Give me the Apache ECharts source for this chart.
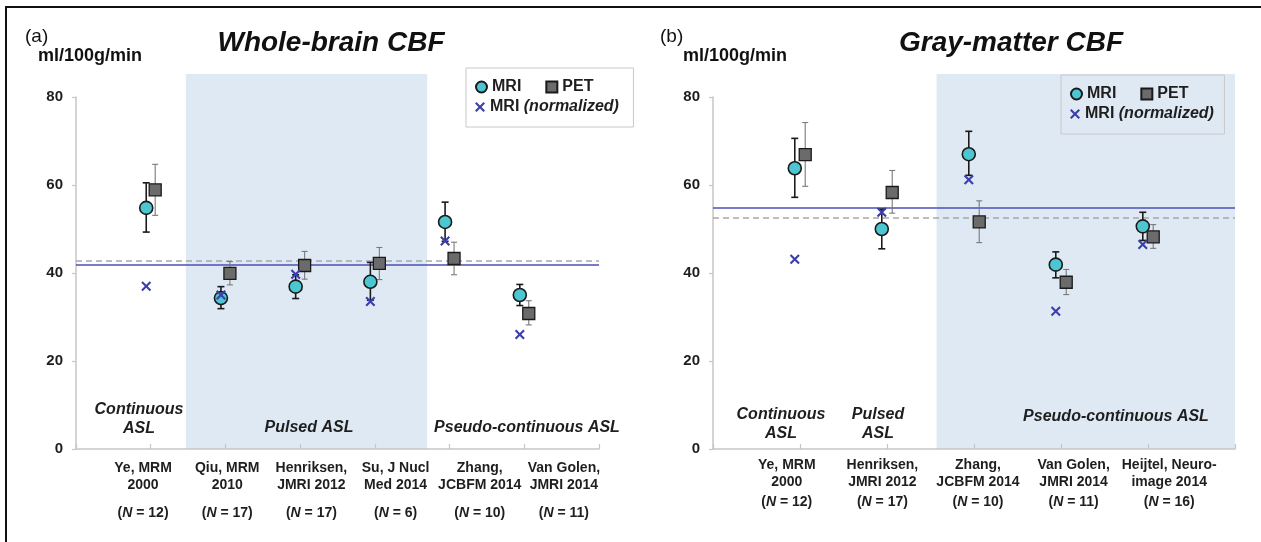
<!DOCTYPE html>
<html>
<head>
<meta charset="utf-8">
<script src="https://cdn.jsdelivr.net/npm/echarts@6/dist/echarts.min.js"></script>
<style>
  html, body { margin: 0; padding: 0; background: #fff; }
  #wrap { position: relative; width: 1261px; height: 542px; overflow: hidden; }
  #chart { position: absolute; left: 0; top: 0; width: 1261px; height: 542px; }
  #frame { position: absolute; left: 5px; top: 6px; width: 1300px; height: 600px;
           border-left: 2px solid #111; border-top: 2px solid #111; pointer-events: none; }
</style>
</head>
<body>
<div id="wrap"><div id="chart"></div><div id="frame"></div></div>
<script>
// ---------- Panel (a): Whole-brain CBF ----------
const catsA = ['Ye, MRM\n2000', 'Qiu, MRM\n2010', 'Henriksen,\nJMRI 2012', 'Su, J Nucl\nMed 2014', 'Zhang,\nJCBFM 2014', 'Van Golen,\nJMRI 2014'];
const nA = [12, 17, 17, 6, 10, 11];
const mriA   = [54.8, 34.3, 36.9, 38.0, 51.6, 35.0];
const mriLoA = [49.3, 31.9, 34.2, 33.8, 47.2, 32.6];
const mriHiA = [60.5, 36.9, 39.6, 42.4, 56.1, 37.4];
const petA   = [58.9, 39.9, 41.7, 42.2, 43.3, 30.8];
const petLoA = [53.1, 37.3, 38.6, 38.5, 39.6, 28.2];
const petHiA = [64.7, 42.6, 44.9, 45.8, 47.0, 33.7];
const normA  = [37.0, 35.0, 39.7, 33.5, 47.3, 26.0];
const refA = [41.9, 42.8];          // [solid blue, dashed gray]
const bandA = [1.47, 4.7];          // Pulsed ASL shading
const groupsA = ['Continuous\nASL', 'Pulsed ASL', 'Pseudo-continuous ASL'];

// ---------- Panel (b): Gray-matter CBF ----------
const catsB = ['Ye, MRM\n2000', 'Henriksen,\nJMRI 2012', 'Zhang,\nJCBFM 2014', 'Van Golen,\nJMRI 2014', 'Heijtel, Neuro-\nimage 2014'];
const nB = [12, 17, 10, 11, 16];
const mriB   = [63.8, 50.0, 67.0, 41.9, 50.6];
const mriLoB = [57.2, 45.5, 62.2, 38.9, 47.4];
const mriHiB = [70.6, 54.5, 72.2, 44.8, 53.8];
const petB   = [66.9, 58.3, 51.6, 37.9, 48.2];
const petLoB = [59.7, 53.6, 46.9, 35.1, 45.6];
const petHiB = [74.2, 63.3, 56.4, 40.8, 51.0];
const normB  = [43.1, 53.8, 61.2, 31.3, 46.5];
const refB = [54.9, 52.6];
const bandB = [2.57, 6.0];
const groupsB = ['Continuous\nASL', 'Pulsed\nASL', 'Pseudo-continuous ASL'];

const yTicks = [0, 80, 20];   // min, max, interval

// ---------- styling ----------
const FONT = 'Liberation Sans, Arial, Helvetica, sans-serif';
const XPATH = 'path://M1.5,0L5,3.5L8.5,0L10,1.5L6.5,5L10,8.5L8.5,10L5,6.5L1.5,10L0,8.5L3.5,5L0,1.5Z';
const OFF = 0.06;
const AXC = '#c6c6c6';
const TXT = '#1e1e1e';

const chart = echarts.init(document.getElementById('chart'), null, { renderer: 'canvas' });

function errSeries(name, xi, yi, xs, lo, hi, color, lw, cap, z) {
  return {
    type: 'custom', name: name, xAxisIndex: xi, yAxisIndex: yi, z: z, silent: true,
    data: xs.map((x, i) => [x, lo[i], hi[i]]),
    encode: { x: 0, y: [1, 2] },
    renderItem: function (params, api) {
      const x = api.value(0);
      const a = api.coord([x, api.value(1)]);
      const b = api.coord([x, api.value(2)]);
      const st = { stroke: color, lineWidth: lw };
      return { type: 'group', children: [
        { type: 'line', shape: { x1: a[0], y1: a[1], x2: b[0], y2: b[1] }, style: st },
        { type: 'line', shape: { x1: a[0] - cap, y1: a[1], x2: a[0] + cap, y2: a[1] }, style: st },
        { type: 'line', shape: { x1: b[0] - cap, y1: b[1], x2: b[0] + cap, y2: b[1] }, style: st }
      ]};
    }
  };
}

function bandSeries(xi, yi, band) {
  return {
    type: 'custom', xAxisIndex: xi, yAxisIndex: yi, z: 0, silent: true,
    data: [[band[0], band[1]]],
    encode: { x: [0, 1] },
    renderItem: function (params, api) {
      const p1 = api.coord([api.value(0), 1]);
      const p2 = api.coord([api.value(1), 0]);
      return { type: 'rect', shape: { x: p1[0], y: p1[1], width: p2[0] - p1[0], height: p2[1] - p1[1] },
               style: { fill: '#dfe9f4' } };
    }
  };
}

function panelSeries(xi, yi, mri, mriLo, mriHi, pet, petLo, petHi, norm, ref) {
  const xm = mri.map((v, i) => i + 1 - OFF);
  const xp = pet.map((v, i) => i + 1 + OFF);
  return [
    Object.assign(errSeries('errMRI', xi, yi, xm, mriLo, mriHi, '#1a1a1a', 1.6, 3.5, 3), {
      markLine: {
        silent: true, symbol: 'none', label: { show: false }, z: 2,
        data: [
          { yAxis: ref[0], lineStyle: { color: '#4a4fb8', width: 1.6, type: 'solid' } },
          { yAxis: ref[1], lineStyle: { color: '#a8a8a8', width: 1.6, type: [6, 4] } }
        ]
      }
    }),
    errSeries('errPET', xi, yi, xp, petLo, petHi, '#7a7a7a', 1.1, 3, 3),
    {
      type: 'scatter', name: 'MRI', xAxisIndex: xi, yAxisIndex: yi, z: 5,
      symbol: 'circle', symbolSize: 13,
      itemStyle: { color: '#4cc7d1', borderColor: '#1a1a1a', borderWidth: 1.6, opacity: 1 },
      data: mri.map((v, i) => [xm[i], v])
    },
    {
      type: 'scatter', name: 'PET', xAxisIndex: xi, yAxisIndex: yi, z: 5,
      symbol: 'rect', symbolSize: 12,
      itemStyle: { color: '#6b6b6b', borderColor: '#1a1a1a', borderWidth: 1.3, opacity: 1 },
      data: pet.map((v, i) => [xp[i], v])
    },
    {
      type: 'scatter', name: 'MRI (normalized)', xAxisIndex: xi, yAxisIndex: yi, z: 6,
      symbol: XPATH, symbolSize: 10,
      itemStyle: { color: '#3b3fab', opacity: 1 },
      data: norm.map((v, i) => [xm[i], v])
    }
  ];
}

function mainX(grid, n) {
  return {
    type: 'value', gridIndex: grid, min: 0, max: n + 1, interval: 1,
    axisLine: { show: true, lineStyle: { color: AXC, width: 1.5 } },
    axisTick: { show: true, inside: true, length: 5, lineStyle: { color: AXC, width: 1.2 } },
    axisLabel: { show: false }, splitLine: { show: false }
  };
}
function hiddenX(grid, n) {
  return { type: 'value', gridIndex: grid, min: 0, max: n + 1, show: false };
}
function labelX(grid, cats, ns, margin, nLH) {
  return {
    type: 'category', gridIndex: grid, data: cats, boundaryGap: true,
    axisLine: { show: false }, axisTick: { show: false }, splitLine: { show: false },
    axisLabel: {
      interval: 0, margin: margin, color: TXT,
      formatter: function (val, idx) {
        return val.split('\n').map(p => '{b|' + p + '}').join('\n') +
               '\n{n|(}{i|N}{n| = ' + ns[idx] + ')}';
      },
      rich: {
        b: { fontFamily: FONT, fontSize: 14, fontWeight: 'bold', lineHeight: 17, color: TXT, align: 'center' },
        n: { fontFamily: FONT, fontSize: 14, fontWeight: 'bold', lineHeight: nLH, color: TXT },
        i: { fontFamily: FONT, fontSize: 14, fontWeight: 'bold', fontStyle: 'italic', lineHeight: nLH, color: TXT }
      }
    }
  };
}
function mainY(grid) {
  return {
    type: 'value', gridIndex: grid, min: yTicks[0], max: yTicks[1], interval: yTicks[2],
    axisLine: { show: true, lineStyle: { color: AXC, width: 1.5 } },
    axisTick: { show: true, inside: false, length: 4, lineStyle: { color: AXC, width: 1.2 } },
    axisLabel: { margin: 13, color: TXT, fontFamily: FONT, fontSize: 15, fontWeight: 'bold' },
    splitLine: { show: false }
  };
}
function hiddenY(grid, min, max) {
  return { type: 'value', gridIndex: grid, min: min, max: max, show: false };
}

function legendPair(left, top, w) {
  return [
    {
      left: left, top: top, orient: 'horizontal',
      data: [{ name: 'MRI', icon: 'circle' }, { name: 'PET', icon: 'rect' }],
      itemWidth: 11, itemHeight: 11, itemGap: 24,
      padding: [11, w, 32, 9],
      borderColor: '#c8c8c8', borderWidth: 1, backgroundColor: 'rgba(255,255,255,0)',
      selectedMode: false,
      textStyle: { fontFamily: FONT, fontSize: 16, fontWeight: 'bold', color: TXT }
    },
    {
      left: left + 9, top: top + 31, orient: 'horizontal',
      data: [{ name: 'MRI (normalized)', icon: XPATH }],
      itemWidth: 10, itemHeight: 10, padding: 0, selectedMode: false,
      formatter: function () { return '{a|MRI} {b|(normalized)}'; },
      textStyle: {
        fontFamily: FONT, fontSize: 16, fontWeight: 'bold', color: TXT,
        rich: {
          a: { fontFamily: FONT, fontSize: 16, fontWeight: 'bold', color: TXT },
          b: { fontFamily: FONT, fontSize: 16, fontWeight: 'bold', fontStyle: 'italic', color: TXT }
        }
      }
    }
  ];
}

function groupText(x, y, txt) {
  return {
    type: 'text', x: x, y: y, z: 10, silent: true,
    style: { text: txt, fontFamily: FONT, fontSize: 16, fontWeight: 'bold', fontStyle: 'italic',
             fill: TXT, align: 'center', verticalAlign: 'middle', lineHeight: 19 }
  };
}

const ttl = (t, l, tp, sz, w, it, align) => ({
  text: t, left: l, top: tp, textAlign: align || 'left',
  textStyle: { fontFamily: FONT, fontSize: sz, fontWeight: w, fontStyle: it ? 'italic' : 'normal', color: '#111' }
});

const option = {
  animation: false,
  backgroundColor: '#fff',
  title: [
    ttl('(a)', 20, 22, 19, 'normal', false),
    ttl('Whole-brain CBF', 326, 24, 28, 'bold', true, 'center'),
    ttl('ml/100g/min', 33, 42, 18, 'bold', false),
    ttl('(b)', 655, 22, 19, 'normal', false),
    ttl('Gray-matter CBF', 1006, 24, 28, 'bold', true, 'center'),
    ttl('ml/100g/min', 678, 42, 18, 'bold', false)
  ],
  legend: legendPair(466, 68, 40).concat(legendPair(1061, 75, 36)),
  grid: [
    { left: 76, width: 523, top: 97, bottom: 93 },   // 0 main a
    { left: 76, width: 523, top: 74, bottom: 93 },   // 1 band a
    { left: 101, width: 505, top: 97, bottom: 93 },  // 2 labels a
    { left: 713, width: 522, top: 97, bottom: 93 },  // 3 main b
    { left: 713, width: 522, top: 74, bottom: 93 },  // 4 band b
    { left: 739, width: 478, top: 97, bottom: 93 }   // 5 labels b
  ],
  xAxis: [
    mainX(0, catsA.length), hiddenX(1, catsA.length), labelX(2, catsA, nA, 11, 39),
    mainX(3, catsB.length), hiddenX(4, catsB.length), labelX(5, catsB, nB, 8, 22)
  ],
  yAxis: [
    mainY(0), hiddenY(1, 0, 1), hiddenY(2, 0, 1),
    mainY(3), hiddenY(4, 0, 1), hiddenY(5, 0, 1)
  ],
  graphic: [
    groupText(139, 419, groupsA[0]),
    groupText(309, 428, groupsA[1]),
    groupText(527, 428, groupsA[2]),
    groupText(781, 424, groupsB[0]),
    groupText(878, 424, groupsB[1]),
    groupText(1116, 417, groupsB[2])
  ],
  series: [
    bandSeries(1, 1, bandA),
    bandSeries(4, 4, bandB)
  ].concat(
    panelSeries(0, 0, mriA, mriLoA, mriHiA, petA, petLoA, petHiA, normA, refA),
    panelSeries(3, 3, mriB, mriLoB, mriHiB, petB, petLoB, petHiB, normB, refB)
  )
};
chart.setOption(option);
</script>
</body>
</html>
